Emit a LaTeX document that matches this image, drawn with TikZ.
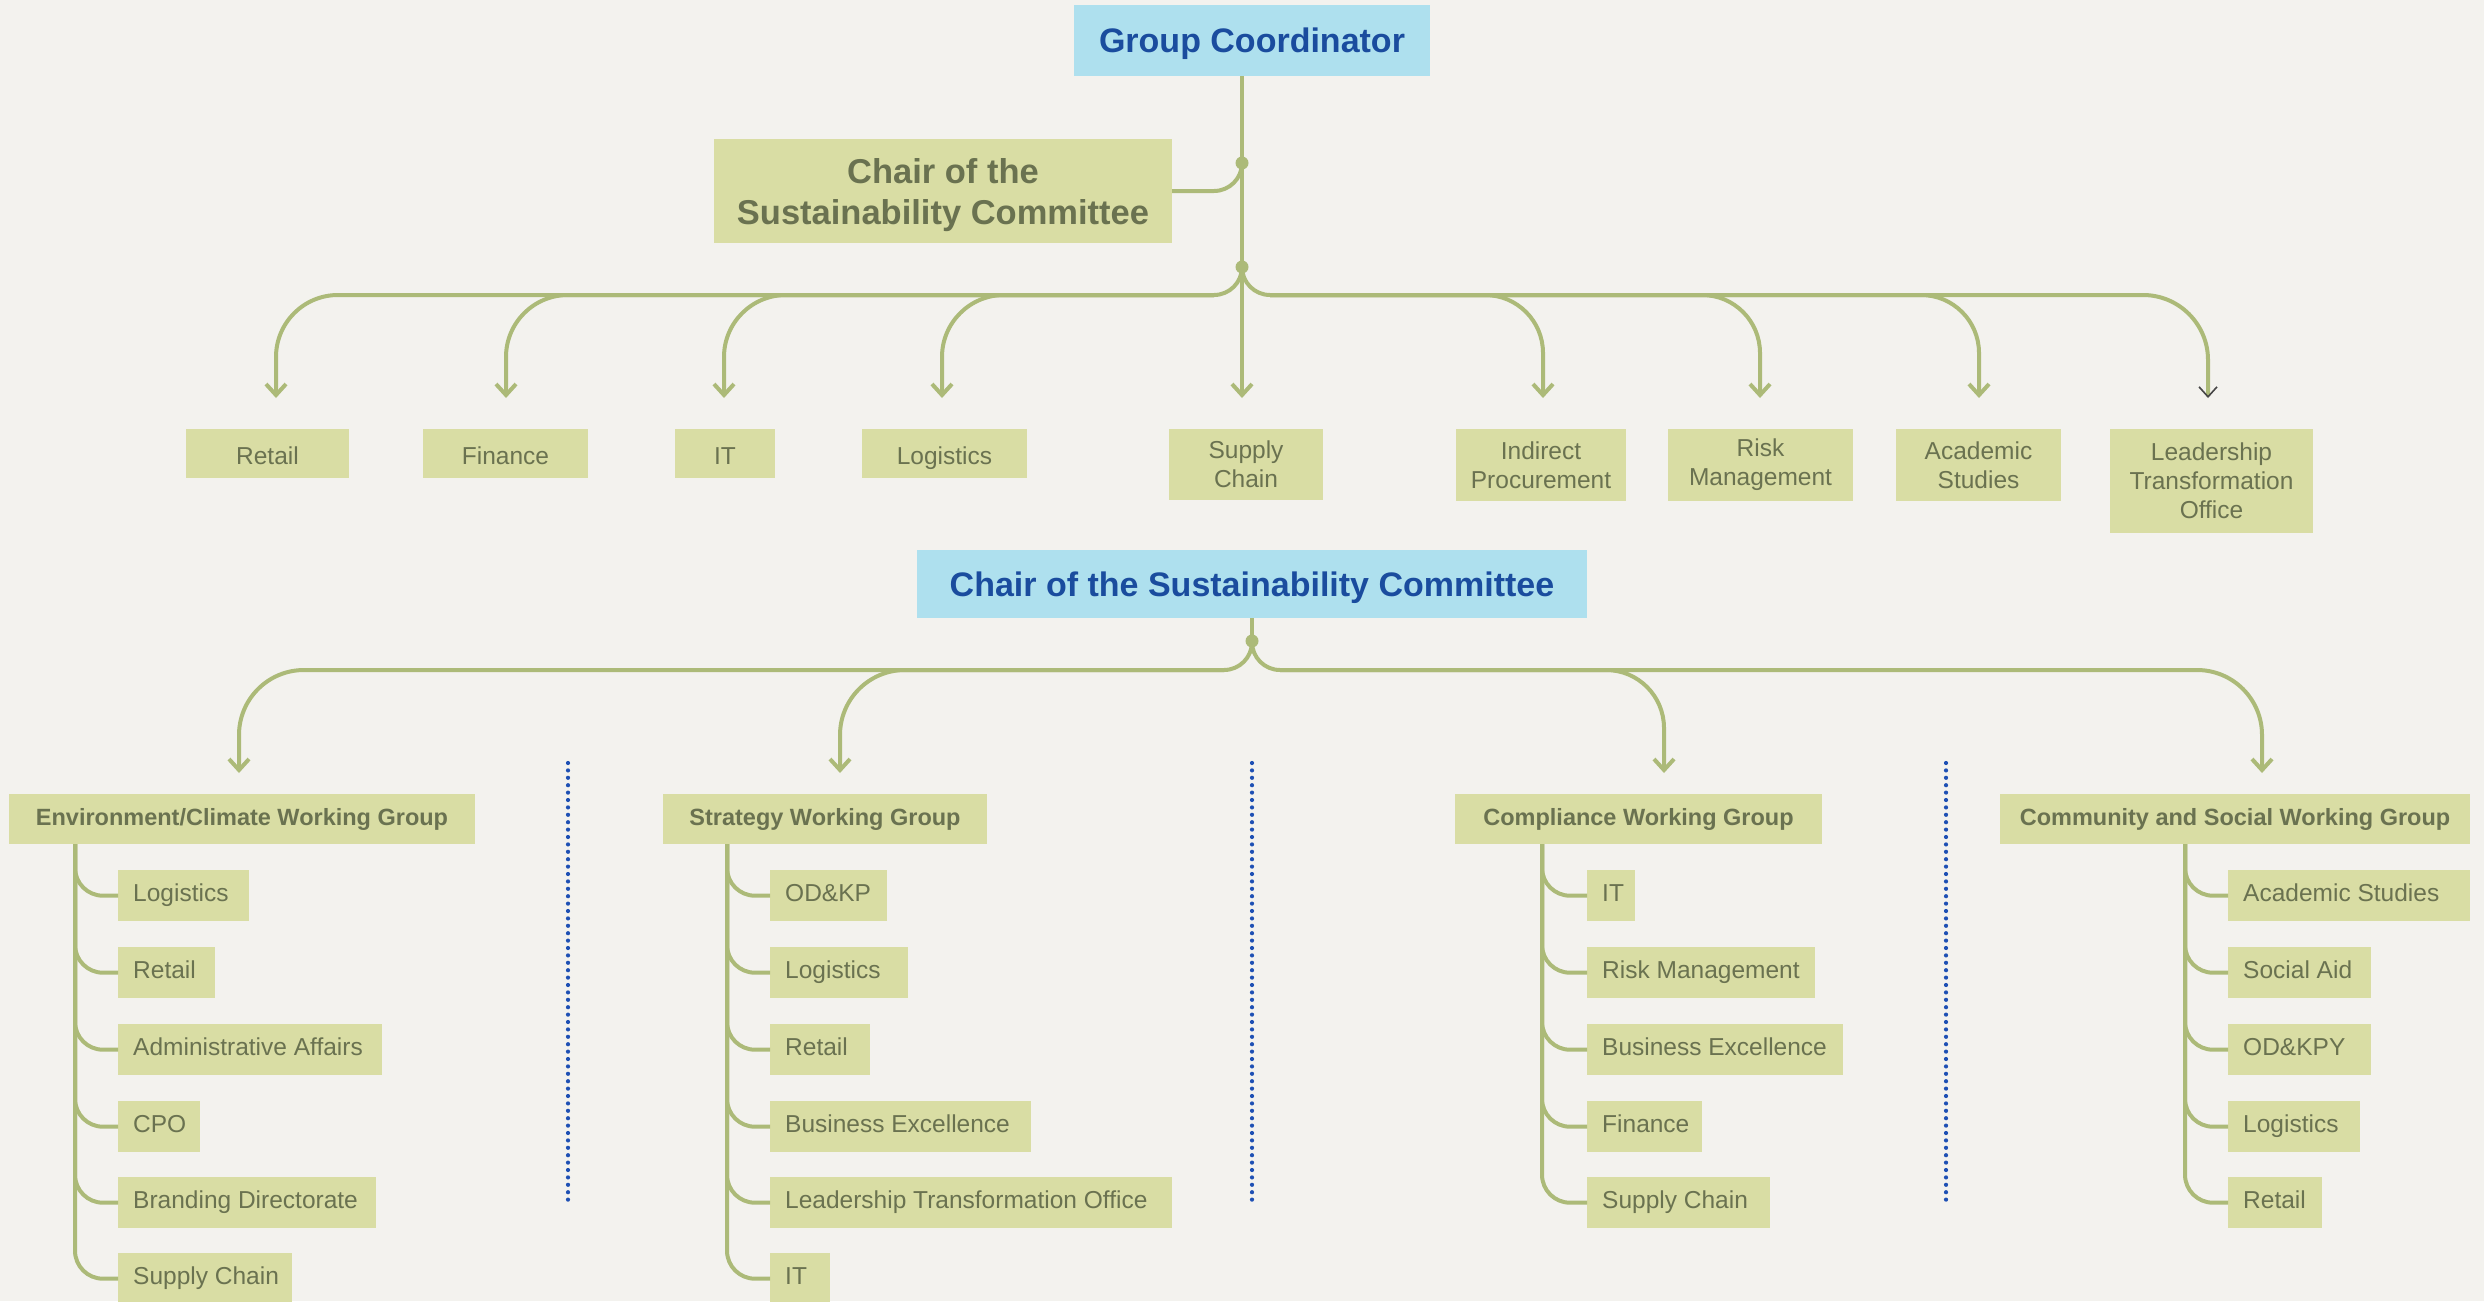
\documentclass[tikz,border=0pt]{standalone}
\usepackage{fontspec}
\setmainfont{Liberation Sans}
\usetikzlibrary{arrows.meta,calc}
\definecolor{bgc}{RGB}{243,242,238}
\definecolor{gfill}{RGB}{217,221,164}
\definecolor{gtext}{RGB}{106,114,80}
\definecolor{bfill}{RGB}{174,224,238}
\definecolor{btext}{RGB}{26,76,158}
\definecolor{lcol}{RGB}{172,186,120}
\definecolor{dotblue}{RGB}{30,80,180}
\definecolor{tipgray}{RGB}{70,70,70}
\newcommand\chld[5]{\node[cbox, anchor=north west, minimum width={#4-#2}] (#1) at (#2,#3) {\makebox[\dimexpr #4pt-#2pt-30pt\relax][l]{#5}};}
\newcommand\chconn[2]{\draw[conn,rounded corners=28pt] (#1) |- (#2.west);}
\begin{document}
\begin{tikzpicture}[x=1pt,y=-1pt,
  conn/.style={draw=lcol,line width=4pt},
  arr/.style={-{Straight Barb[length=11pt,width=20pt]}},
  bbox/.style={fill=bfill,text=btext,inner sep=0pt,font=\fontsize{34}{40}\selectfont\bfseries,align=center,text height=28pt,text depth=4pt},
  gbox/.style={fill=gfill,text=gtext,inner sep=0pt,font=\fontsize{24.5}{29}\selectfont,align=center},
  gone/.style={gbox,text height=21pt,text depth=0pt,minimum height=49pt},
  grp/.style={fill=gfill,text=gtext,inner sep=0pt,font=\fontsize{23.5}{28}\selectfont\bfseries,minimum height=50pt},
  cbox/.style={fill=gfill,text=gtext,inner xsep=15pt,inner ysep=0pt,font=\fontsize{24.5}{29}\selectfont,minimum height=51pt,text height=17.5pt,text depth=5pt},
  divider/.style={draw=dotblue,line width=4.2pt,line cap=round,dash pattern=on 0pt off 7.4pt},
  jdot/.style={fill=lcol}]
\fill[bgc] (0,0) rectangle (2484,1301);
\useasboundingbox (0,0) rectangle (2484,1301);

% ---------- top part ----------
\node[bbox,minimum width=356pt,minimum height=71pt] (gc) at (1252,40.5) {Group Coordinator};
\node[fill=gfill,inner sep=0pt,minimum width=458pt,minimum height=104pt,
  label={[text=gtext,font=\fontsize{34.5}{41}\selectfont\bfseries,align=center,yshift=-4pt]center:{Chair of the\\Sustainability Committee}}] (ct) at (943,191) {};

\node[gone,minimum width=163pt] (t1) at (267.5,453.5) {Retail};
\node[gone,minimum width=165pt] (t2) at (505.5,453.5) {Finance};
\node[gone,minimum width=100pt] (t3) at (725,453.5) {IT};
\node[gone,minimum width=165pt] (t4) at (944.5,453.5) {Logistics};
\node[gbox,minimum width=154pt,minimum height=71pt] (t5) at (1246,464.5) {Supply\\Chain};
\node[gbox,minimum width=170pt,minimum height=72pt] (t6) at (1541,465) {Indirect\\Procurement};
\node[gbox,minimum width=185pt,minimum height=72pt] (t7) at (1760.5,465) {Risk\\Management};
\node[gbox,minimum width=165pt,minimum height=72pt] (t8) at (1978.5,465) {Academic\\Studies};
\node[gbox,minimum width=203pt,minimum height=104pt] (t9) at (2211.5,481) {Leadership\\Transformation\\Office};

\coordinate (d1) at (1242,163);
\coordinate (d2) at (1242,267);
\coordinate (mL) at (1214,295);
\coordinate (mR) at (1270,295);
\coordinate (a1) at (276,398);
\coordinate (a2) at (506,398);
\coordinate (a3) at (724,398);
\coordinate (a4) at (942,398);
\coordinate (a5) at (1242,398);
\coordinate (a6) at (1543,398);
\coordinate (a7) at (1760,398);
\coordinate (a8) at (1979,398);
\coordinate (a9) at (2208,398);

\draw[conn,arr] (gc.south -| d1) -- (a5);
\draw[conn,rounded corners=28pt] (d1) |- (ct.east);
\draw[conn,rounded corners=28pt] (d2) |- (mL);
\draw[conn,rounded corners=28pt] (d2) |- (mR);
\foreach \a in {a1,a2,a3,a4}{\draw[conn,arr,rounded corners=62pt] (mL) -| (\a);}
\foreach \a in {a6,a7,a8}{\draw[conn,arr,rounded corners=58pt] (mR) -| (\a);}
\draw[conn,-{Straight Barb[length=10pt,width=18pt,line width=1.6pt,color=tipgray]},rounded corners=65pt] (mR) -| (a9);
\fill[jdot] (d1) circle (6.5pt);
\fill[jdot] (d2) circle (6.5pt);

% ---------- bottom part ----------
\node[bbox,minimum width=670pt,minimum height=68pt] (ch) at (1252,584) {Chair of the Sustainability Committee};

\node[grp,minimum width=466pt] (g1) at (242,819) {Environment/Climate Working Group};
\node[grp,minimum width=324pt] (g2) at (825,819) {Strategy Working Group};
\node[grp,minimum width=367pt] (g3) at (1638.5,819) {Compliance Working Group};
\node[grp,minimum width=470pt] (g4) at (2235,819) {Community and Social Working Group};

\coordinate (d3) at (1252,641);
\coordinate (nL) at (1224,670);
\coordinate (nR) at (1280,670);
\coordinate (e1) at (239,773);
\coordinate (e2) at (840,773);
\coordinate (e3) at (1664,773);
\coordinate (e4) at (2262,773);
\draw[conn] (ch.south) -- (d3);
\draw[conn,rounded corners=28pt] (d3) |- (nL);
\draw[conn,rounded corners=28pt] (d3) |- (nR);
\draw[conn,arr,rounded corners=65pt] (nL) -| (e1);
\draw[conn,arr,rounded corners=65pt] (nL) -| (e2);
\draw[conn,arr,rounded corners=58pt] (nR) -| (e3);
\draw[conn,arr,rounded corners=65pt] (nR) -| (e4);
\fill[jdot] (d3) circle (6.5pt);

% dividers
\coordinate (v1a) at (568,763);  \coordinate (v1b) at (568,1204);
\coordinate (v2a) at (1252,763); \coordinate (v2b) at (1252,1204);
\coordinate (v3a) at (1946,763); \coordinate (v3b) at (1946,1204);
\draw[divider] (v1a) -- (v1b);
\draw[divider] (v2a) -- (v2b);
\draw[divider] (v3a) -- (v3b);

% children: Environment
\coordinate (r1) at (75,844);
\chld{c11}{118}{870}{249}{Logistics}
\chld{c12}{118}{947}{215}{Retail}
\chld{c13}{118}{1024}{382}{Administrative Affairs}
\chld{c14}{118}{1101}{200}{CPO}
\chld{c15}{118}{1177}{376}{Branding Directorate}
\chld{c16}{118}{1253}{292}{Supply Chain}
\foreach \c in {c11,c12,c13,c14,c15,c16}{\chconn{r1}{\c}}

% children: Strategy
\coordinate (r2) at (727,844);
\chld{c21}{770}{870}{887}{OD\&KP}
\chld{c22}{770}{947}{908}{Logistics}
\chld{c23}{770}{1024}{870}{Retail}
\chld{c24}{770}{1101}{1031}{Business Excellence}
\chld{c25}{770}{1177}{1172}{Leadership Transformation Office}
\chld{c26}{770}{1253}{830}{IT}
\foreach \c in {c21,c22,c23,c24,c25,c26}{\chconn{r2}{\c}}

% children: Compliance
\coordinate (r3) at (1542,844);
\chld{c31}{1587}{870}{1635}{IT}
\chld{c32}{1587}{947}{1815}{Risk Management}
\chld{c33}{1587}{1024}{1843}{Business Excellence}
\chld{c34}{1587}{1101}{1702}{Finance}
\chld{c35}{1587}{1177}{1770}{Supply Chain}
\foreach \c in {c31,c32,c33,c34,c35}{\chconn{r3}{\c}}

% children: Community
\coordinate (r4) at (2185,844);
\chld{c41}{2228}{870}{2470}{Academic Studies}
\chld{c42}{2228}{947}{2371}{Social Aid}
\chld{c43}{2228}{1024}{2371}{OD\&KPY}
\chld{c44}{2228}{1101}{2360}{Logistics}
\chld{c45}{2228}{1177}{2322}{Retail}
\foreach \c in {c41,c42,c43,c44,c45}{\chconn{r4}{\c}}
\end{tikzpicture}
\end{document}
